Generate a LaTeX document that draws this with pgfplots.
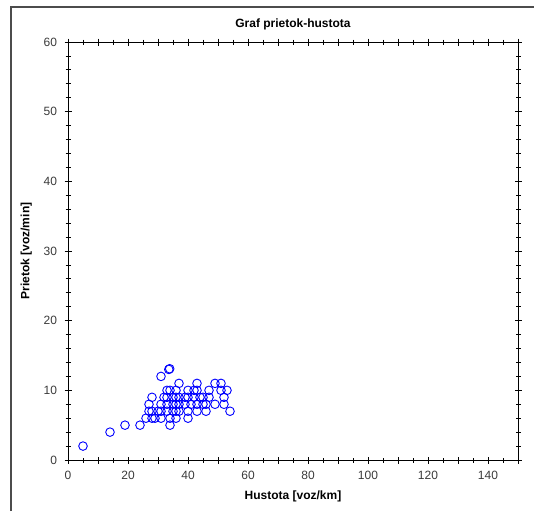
\documentclass[border=0pt]{standalone}
\usepackage{pgfplots}
\pgfplotsset{compat=1.18}
\usepackage{fontspec}
\setmainfont{Liberation Sans}
\definecolor{tickgray}{HTML}{3A3A3A}
\begin{document}
\begin{tikzpicture}[x=1pt,y=1pt]
\useasboundingbox (0,0) rectangle (534,511);
\draw[color=black!70,line width=1.5pt] (11,0) -- (11,504) -- (534,504);
\begin{axis}[
  at={(68pt,51pt)}, anchor=south west,
  scale only axis, width=450pt, height=418pt,
  xmin=0, xmax=150, ymin=0, ymax=60,
  xtick={0,10,...,150},
  xticklabels={0,,20,,40,,60,,80,,100,,120,,140,},
  ytick={0,10,...,60},
  minor x tick num=1,
  minor y tick num=4,
  tick align=center,
  major tick length=7pt,
  minor tick length=5pt,
  axis line style={line width=1pt},
  every tick/.style={black,line width=0.8pt},
  tick label style={font=\fontsize{12}{14}\selectfont, color=tickgray},
  xticklabel style={yshift=-4pt},
  yticklabel style={xshift=-4pt},
  /pgf/number format/assume math mode=true,
  title={\bfseries Graf prietok-hustota},
  title style={font=\fontsize{12}{14}\selectfont, at={(0.5,1)}, yshift=2pt},
  xlabel={\bfseries Hustota [voz/km]},
  ylabel={\bfseries Prietok [voz/min]},
  label style={font=\fontsize{12}{14}\selectfont},
  xlabel style={yshift=-4pt},
  ylabel style={yshift=5pt},
]
\addplot[only marks, mark=o, mark size=4.3pt, color=blue, mark options={line width=0.9pt}] coordinates {
(5,2) (14,4) (19,5) (24,5) (34,5)
(26,6) (28,6) (29,6) (31,6) (34,6) (36,6) (40,6)
(27,7) (28,7) (30,7) (31,7) (33,7) (35,7) (36,7) (37,7) (40,7) (43,7) (46,7) (54,7)
(27,8) (31,8) (33,8) (35,8) (36,8) (37,8) (39,8) (41,8) (43,8) (45,8) (46,8) (49,8) (52,8)
(28,9) (32,9) (33,9) (35,9) (36,9) (37,9) (39,9) (40,9) (42,9) (44,9) (45,9) (47,9) (52,9)
(33,10) (34,10) (36,10) (40,10) (42,10) (43,10) (47,10) (51,10) (53,10)
(37,11) (43,11) (49,11) (51,11)
(31,12) (33.6,13) (33.9,13.1)
};
\end{axis}
\end{tikzpicture}
\end{document}
